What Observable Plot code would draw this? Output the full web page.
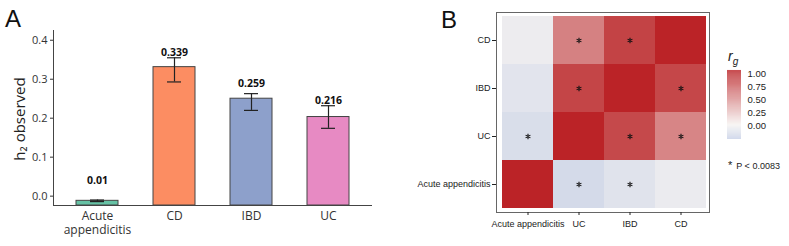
<!DOCTYPE html>
<html>
<head>
<meta charset="utf-8">
<script src="https://cdn.jsdelivr.net/npm/d3@7"></script>
<script src="https://cdn.jsdelivr.net/npm/@observablehq/plot@0.6"></script>
<style>
  html, body { margin: 0; padding: 0; background: #fff; }
  #fig { position: relative; width: 789px; height: 246px; overflow: hidden; background: #fff; }
  .panel { position: absolute; top: 0; }
  .letter { position: absolute; font-family: "Liberation Sans", Arial, sans-serif; font-size: 24px; color: #111; line-height: 1; }
  .ylab { position: absolute; font-family: "Open Sans", sans-serif; font-size: 15px; color: #222; white-space: nowrap;
          transform: translate(-50%, -50%) rotate(-90deg); line-height: 1; }
  .rg { position: absolute; font-family: "Liberation Sans", Arial, sans-serif; font-size: 14px; font-style: italic; color: #222; }
  .rg sub { font-size: 10px; }
  .pnote { position: absolute; font-family: "Liberation Sans", Arial, sans-serif; font-size: 9px; color: #222; white-space: nowrap; }
</style>
</head>
<body>
<div id="fig">
  <div class="letter" style="left:5px; top:7px;">A</div>
  <div class="letter" style="left:441px; top:8px;">B</div>
  <div class="ylab" style="left:19px; top:119px;">h₂ observed</div>
</div>
<script>
// ---------- Panel A data ----------
const categories = ["Acute appendicitis", "CD", "IBD", "UC"];
const h2Values = [-0.012, 0.331, 0.250, 0.203];
const errLow = [-0.014, 0.293, 0.220, 0.174];
const errHigh = [-0.010, 0.355, 0.263, 0.232];
const valueLabels = ["0.01", "0.339", "0.259", "0.216"];
const labelValues = [0.01, 0.339, 0.259, 0.216];
const barColors = ["#66c2a5", "#fc8d62", "#8da0cb", "#e78ac3"];
const yTicksA = [0, 0.1, 0.2, 0.3, 0.4];

// ---------- Panel B data ----------
const traitsX = ["Acute appendicitis", "UC", "IBD", "CD"];
const traitsY = ["CD", "IBD", "UC", "Acute appendicitis"];
// rows follow traitsY, columns follow traitsX
const rgMatrix = [
  [-0.05, 0.55, 0.85, 1.00],
  [-0.11, 0.84, 1.00, 0.83],
  [-0.16, 1.00, 0.82, 0.53],
  [ 1.00, -0.19, -0.12, -0.06]
];
const sigMatrix = [
  [0, 1, 1, 0],
  [0, 1, 0, 1],
  [1, 0, 1, 1],
  [0, 1, 1, 0]
];
const legendTicks = [0, 0.25, 0.5, 0.75, 1.0];
const rgDomain = [-0.27, 0, 1.06];
const rgColors = ["#c5cfe6", "#f6f3f1", "#b7171b"];

const fig = document.getElementById("fig");

// ---------- Panel A ----------
const barData = categories.map((c, i) => ({
  cat: c, h2: h2Values[i], lo: errLow[i], hi: errHigh[i],
  label: valueLabels[i], labelVal: labelValues[i], color: barColors[i]
}));
const yMinA = -0.024, yMaxA = 0.425;

const plotA = Plot.plot({
  width: 385, height: 246,
  marginLeft: 53, marginRight: 13, marginTop: 30, marginBottom: 41,
  style: { fontFamily: "'Open Sans', sans-serif", background: "transparent", color: "#333" },
  x: { domain: categories, paddingInner: 0.46, paddingOuter: 0.28 },
  y: { domain: [yMinA, yMaxA] },
  marks: [
    Plot.barY(barData, { x: "cat", y1: () => yMinA, y2: "h2", fill: "color", stroke: "#444", strokeWidth: 1 }),
    Plot.ruleX(barData, { x: "cat", y1: "lo", y2: "hi", stroke: "#222", strokeWidth: 1.2 }),
    Plot.tickY(barData, { x: "cat", y: "hi", stroke: "#222", strokeWidth: 1.2, insetLeft: 14, insetRight: 14 }),
    Plot.tickY(barData, { x: "cat", y: "lo", stroke: "#222", strokeWidth: 1.2, insetLeft: 14, insetRight: 14 }),
    Plot.text(barData, { x: "cat", y: d => d.labelVal + 0.03, text: "label", fontWeight: "bold", fontSize: 10.5, fill: "#111" }),
    Plot.ruleY([yMinA], { stroke: "#444", strokeWidth: 1 }),
    Plot.frame({ anchor: "left", stroke: "#444", strokeWidth: 1 }),
    Plot.axisY({ ticks: yTicksA, tickFormat: ".1f", tickSize: 3, tickPadding: 3, fontSize: 11, label: null }),
    Plot.axisX({ tickSize: 0, tickPadding: 4, fontSize: 12, label: null,
      tickFormat: d => d === "Acute appendicitis" ? "Acute\nappendicitis" : d, lineHeight: 1.2 })
  ]
});
plotA.classList.add("panel");
plotA.style.left = "0px";
fig.appendChild(plotA);

// ---------- Panel B ----------
const cells = [];
traitsY.forEach((r, i) => traitsX.forEach((c, j) => {
  cells.push({ row: r, col: c, v: rgMatrix[i][j], sig: sigMatrix[i][j] });
}));

const colorOpts = { type: "linear", domain: rgDomain, range: rgColors, interpolate: "rgb" };

const plotB = Plot.plot({
  width: 389, height: 246,
  marginLeft: 96, marginRight: 80, marginTop: 12, marginBottom: 34,
  style: { fontFamily: "'Liberation Sans', Arial, sans-serif", background: "transparent", color: "#222" },
  x: { domain: traitsX, padding: 0, insetLeft: 5, insetRight: 2 },
  y: { domain: traitsY, padding: 0, insetTop: 4, insetBottom: 4 },
  color: colorOpts,
  marks: [
    Plot.cell(cells, { x: "col", y: "row", fill: "v", inset: 0 }),
    Plot.dot(cells.filter(d => d.sig), { x: "col", y: "row", symbol: "asterisk", r: 2.6, stroke: "#111", strokeWidth: 1.1 }),
    Plot.frame({ stroke: "#666", strokeWidth: 1 }),
    Plot.axisX({ tickSize: 3, tickPadding: 5, fontSize: 9, label: null }),
    Plot.axisY({ tickSize: 4, tickPadding: 2, fontSize: 9, label: null })
  ]
});
plotB.classList.add("panel");
plotB.style.left = "400px";
fig.appendChild(plotB);

// ---------- Colour legend ----------
const steps = d3.range(rgDomain[0], rgDomain[2], 0.01).map(v => ({ v }));
const legend = Plot.plot({
  width: 65, height: 150,
  marginLeft: 7, marginRight: 44, marginTop: 70, marginBottom: 11,
  style: { fontFamily: "'Liberation Sans', Arial, sans-serif", background: "transparent", color: "#222" },
  x: { domain: [0, 1], axis: null },
  y: { domain: [rgDomain[0], rgDomain[2]] },
  color: colorOpts,
  marks: [
    Plot.rect(steps, { x1: 0, x2: 1, y1: "v", y2: d => d.v + 0.0105, fill: "v" }),
    Plot.axisY({ anchor: "right", ticks: legendTicks, tickFormat: ".2f", tickSize: 0, tickPadding: 6, fontSize: 9.5, label: null })
  ]
});
legend.classList.add("panel");
legend.style.left = "720px";
fig.appendChild(legend);

const rg = document.createElement("div");
rg.className = "rg";
rg.style.left = "728px"; rg.style.top = "48px";
rg.innerHTML = "r<sub>g</sub>";
fig.appendChild(rg);

const pn = document.createElement("div");
pn.className = "pnote";
pn.style.left = "728px"; pn.style.top = "159px";
pn.innerHTML = "<span style='font-size:11px;margin-right:4px'>*</span>P &lt; 0.0083";
fig.appendChild(pn);
</script>
</body>
</html>
